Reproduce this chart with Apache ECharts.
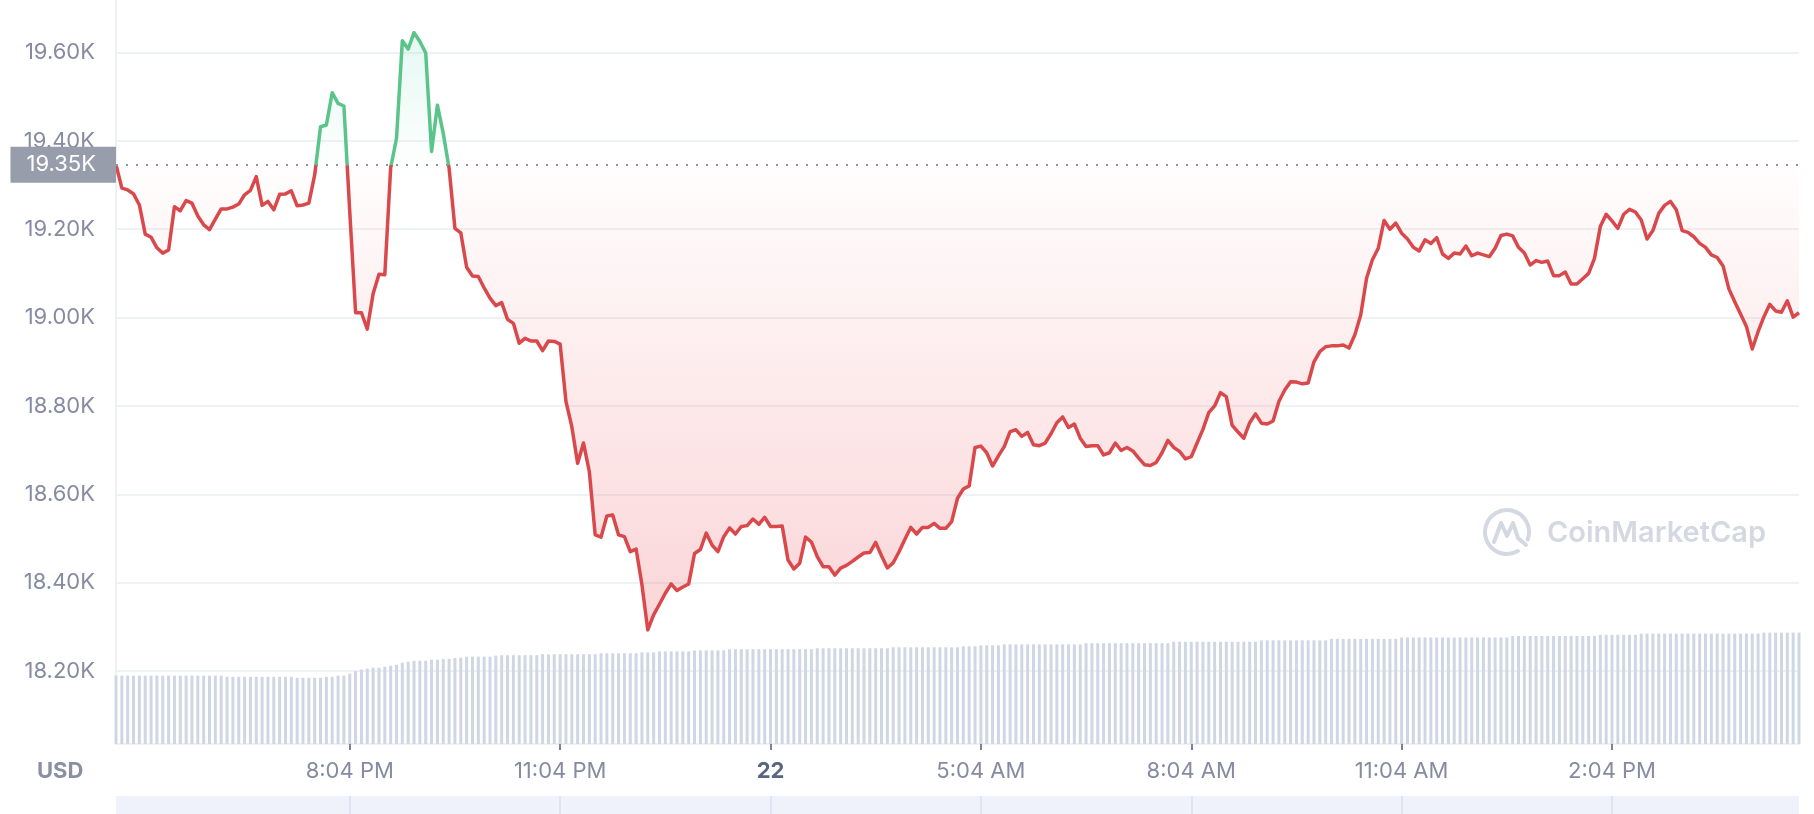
<!DOCTYPE html>
<html>
<head>
<meta charset="utf-8">
<script src="https://cdn.jsdelivr.net/npm/echarts@6/dist/echarts.min.js"></script>
<style>
  html, body { margin: 0; padding: 0; background: #fff; }
  #chart { width: 1814px; height: 814px; }
</style>
</head>
<body>
<div id="chart"></div>
<script>
// BTC / USD, last 24h in 5 minute steps (21st 16:44 -> 22nd 16:44)
const prices = [
  19346, 19293, 19289, 19280, 19255, 19189, 19182, 19158, 19146, 19153,
  19251, 19242, 19265, 19259, 19230, 19210, 19199, 19223, 19246, 19246,
  19250, 19257, 19278, 19288, 19319, 19254, 19263, 19244, 19279, 19280,
  19287, 19253, 19255, 19259, 19323, 19432, 19436, 19509, 19485, 19479,
  19240, 19011, 19011, 18974, 19054, 19098, 19097, 19339, 19406, 19627,
  19608, 19645, 19625, 19599, 19376, 19481, 19417, 19338, 19202, 19192,
  19114, 19094, 19093, 19067, 19044, 19027, 19034, 18996, 18987, 18942,
  18953, 18947, 18947, 18925, 18947, 18946, 18940, 18810, 18753, 18670,
  18716, 18651, 18508, 18503, 18551, 18553, 18508, 18504, 18470, 18476,
  18395, 18293, 18327, 18351, 18376, 18397, 18382, 18390, 18397, 18466,
  18475, 18512, 18485, 18470, 18504, 18524, 18510, 18527, 18529, 18544,
  18532, 18548, 18527, 18527, 18528, 18451, 18431, 18444, 18503, 18492,
  18459, 18436, 18436, 18417, 18433, 18439, 18448, 18458, 18467, 18468,
  18491, 18461, 18433, 18445, 18470, 18498, 18525, 18510, 18525, 18525,
  18534, 18523, 18523, 18538, 18591, 18612, 18619, 18706, 18709, 18694,
  18664, 18687, 18708, 18742, 18746, 18731, 18740, 18712, 18710, 18716,
  18737, 18762, 18775, 18751, 18759, 18727, 18708, 18710, 18710, 18689,
  18694, 18716, 18699, 18706, 18698, 18682, 18667, 18665, 18672, 18694,
  18722, 18706, 18697, 18680, 18685, 18716, 18747, 18785, 18800, 18830,
  18821, 18756, 18741, 18727, 18762, 18782, 18761, 18759, 18766, 18810,
  18836, 18855, 18854, 18850, 18852, 18900, 18923, 18934, 18936, 18936,
  18938, 18931, 18961, 19006, 19089, 19131, 19157, 19220, 19200, 19214,
  19191, 19178, 19159, 19151, 19176, 19168, 19181, 19144, 19134, 19146,
  19144, 19162, 19140, 19146, 19142, 19138, 19157, 19186, 19189, 19185,
  19159, 19146, 19119, 19129, 19125, 19128, 19095, 19095, 19103, 19076,
  19076, 19088, 19100, 19134, 19206, 19234, 19219, 19202, 19234, 19245,
  19239, 19221, 19178, 19197, 19236, 19254, 19263, 19244, 19197, 19193,
  19183, 19168, 19159, 19142, 19136, 19117, 19065, 19036, 19008, 18980,
  18929, 18968, 19002, 19030, 19015, 19012, 19038, 19001, 19011
];

// 24h volume, billions USD
const volumes = [
  28.5, 28.5, 28.5, 28.5, 28.5, 28.5, 28.5, 28.5, 28.5, 28.5,
  28.5, 28.5, 28.5, 28.5, 28.5, 28.5, 28.5, 28.5, 28.5, 28.0,
  28.0, 28.0, 28.0, 28.0, 28.0, 28.0, 28.0, 28.0, 28.0, 28.0,
  28.0, 27.6, 27.6, 27.6, 27.6, 27.6, 28.0, 28.0, 28.5, 28.5,
  29.3, 30.4, 31.0, 31.4, 31.8, 31.8, 32.2, 32.6, 33.0, 33.9,
  34.3, 34.7, 34.7, 34.7, 35.1, 35.1, 35.4, 35.5, 35.8, 36.0,
  36.4, 36.4, 36.4, 36.4, 36.4, 36.8, 37.0, 37.0, 37.0, 37.0,
  37.0, 37.0, 37.0, 37.4, 37.4, 37.4, 37.4, 37.4, 37.4, 37.4,
  37.4, 37.4, 37.4, 37.8, 37.8, 37.8, 37.8, 37.8, 37.8, 37.8,
  38.2, 38.2, 38.2, 38.6, 38.6, 38.6, 38.6, 38.6, 38.6, 39.0,
  39.0, 39.0, 39.0, 39.0, 39.0, 39.5, 39.5, 39.5, 39.5, 39.5,
  39.5, 39.5, 39.5, 39.5, 39.5, 39.5, 39.5, 39.5, 39.5, 39.5,
  39.9, 39.9, 39.9, 39.9, 39.9, 39.9, 39.9, 39.9, 39.9, 39.9,
  39.9, 39.9, 39.9, 40.3, 40.3, 40.3, 40.3, 40.3, 40.3, 40.3,
  40.3, 40.3, 40.3, 40.3, 40.3, 40.7, 40.7, 40.7, 41.1, 41.1,
  41.1, 41.1, 41.5, 41.5, 41.5, 41.5, 41.5, 41.5, 41.5, 41.5,
  41.5, 41.5, 41.5, 41.5, 41.5, 41.5, 42.0, 42.0, 42.0, 42.0,
  42.0, 42.0, 42.0, 42.0, 42.0, 42.0, 42.0, 42.0, 42.0, 42.0,
  42.0, 42.6, 42.6, 42.6, 42.6, 42.6, 42.6, 42.6, 42.6, 42.6,
  42.6, 42.6, 42.6, 42.6, 42.6, 42.6, 43.2, 43.2, 43.2, 43.2,
  43.2, 43.2, 43.2, 43.2, 43.2, 43.2, 43.2, 43.2, 43.8, 43.8,
  43.8, 43.8, 43.8, 43.8, 43.8, 43.8, 43.8, 43.8, 43.8, 43.8,
  44.4, 44.4, 44.4, 44.4, 44.4, 44.4, 44.4, 44.4, 44.4, 44.4,
  44.4, 44.4, 44.4, 44.4, 44.4, 44.4, 44.4, 44.4, 44.4, 45.0,
  45.0, 45.0, 45.0, 45.0, 45.0, 45.0, 45.0, 45.0, 45.0, 45.0,
  45.0, 45.0, 45.0, 45.0, 45.5, 45.5, 45.5, 45.5, 45.5, 45.5,
  45.5, 46.0, 46.0, 46.0, 46.0, 46.0, 46.0, 46.0, 46.0, 46.0,
  46.0, 46.0, 46.0, 46.0, 46.0, 46.0, 46.0, 46.0, 46.0, 46.0,
  46.0, 46.0, 46.4, 46.4, 46.4, 46.4, 46.4, 46.4, 46.4
];

const tickTimes = ['21 20:04', '21 23:04', '22 02:04', '22 05:04', '22 08:04', '22 11:04', '22 14:04'];
const tickLabels = ['8:04 PM', '11:04 PM', '22', '5:04 AM', '8:04 AM', '11:04 AM', '2:04 PM'];

// category names "DD HH:MM"
const startMinute = 16 * 60 + 44;
const times = [];
for (let i = 0; i < prices.length; i++) {
  const t = startMinute + i * 5;
  const m = t % 1440;
  times.push((21 + Math.floor(t / 1440)) + ' ' +
    String(Math.floor(m / 60)).padStart(2, '0') + ':' + String(m % 60).padStart(2, '0'));
}

const openPrice = prices[0];
const RED = '#d9484b';
const GREEN = '#5ac48a';
const FONT = 'Inter';
const isTick = (idx, val) => tickTimes.indexOf(val) >= 0;

const myChart = echarts.init(document.getElementById('chart'));

let option = {
  backgroundColor: '#fff',
  animation: false,
  textStyle: { fontFamily: FONT },
  grid: [
    { left: 116, right: 15, top: 0, bottom: 54.7 },        // price
    { left: 116, right: 15, top: 0, bottom: 70 },          // volume
    { left: 116, right: 15, top: 796, height: 18, show: true, backgroundColor: '#eff2fb', borderWidth: 0 }
  ],
  xAxis: [
    { type: 'category', gridIndex: 0, data: times, boundaryGap: false, show: false },
    {
      type: 'category', gridIndex: 1, data: times, boundaryGap: false,
      axisLine: { lineStyle: { color: '#eef1f6', width: 2 } },
      axisTick: { interval: isTick, length: 6, lineStyle: { color: '#7d8294', width: 2 } },
      axisLabel: {
        interval: isTick,
        margin: 16,
        fontSize: 22,
        color: '#858ca2',
        fontFamily: FONT,
        formatter: function (v) {
          const k = tickTimes.indexOf(v);
          if (k < 0) return '';
          return tickLabels[k].indexOf(' ') < 0 ? '{b|' + tickLabels[k] + '}' : tickLabels[k];
        },
        rich: { b: { fontSize: 22, fontWeight: 'bold', color: '#58667e', fontFamily: FONT } }
      }
    },
    {
      type: 'category', gridIndex: 2, data: times, boundaryGap: false,
      axisLine: { show: false }, axisTick: { show: false }, axisLabel: { show: false },
      splitLine: { show: true, interval: isTick, lineStyle: { color: '#dfe4f2', width: 2 } }
    }
  ],
  yAxis: [
    {
      // ticks counted from min (a multiple of 200); the top edge is not a tick
      type: 'value', gridIndex: 0, min: 18000, max: 19719, interval: 200,
      axisLine: { show: false }, axisTick: { show: false },
      axisLabel: {
        margin: 21, fontSize: 22, color: '#858ca2', fontFamily: FONT,
        showMinLabel: false, showMaxLabel: false,
        formatter: v => (v / 1000).toFixed(2) + 'K'
      },
      splitLine: { lineStyle: { color: '#eff2f5', width: 2 }, showMinLine: false, showMaxLine: false }
    },
    {
      type: 'value', gridIndex: 1, min: 0, max: 310,
      axisLine: { show: true, lineStyle: { color: '#eef1f6', width: 2 } },
      axisTick: { show: false }, axisLabel: { show: false }, splitLine: { show: false }
    },
    { type: 'value', gridIndex: 2, show: false, splitLine: { show: false } }
  ],
  visualMap: {
    show: false,
    type: 'piecewise',
    seriesIndex: 0,
    dimension: 1,
    pieces: [
      { gte: 10000, lt: openPrice, color: RED },
      { gte: openPrice, lte: 30000, color: GREEN }
    ]
  },
  graphic: [
    {
      type: 'text', left: 37, top: 760, silent: true,
      style: { text: 'USD', font: 'bold 22px Inter', fill: '#8a90a2' }
    },
    {
      type: 'group', silent: true,
      children: [
        {
          type: 'arc',
          shape: { cx: 1507, cy: 532, r: 22, startAngle: Math.PI / 3, endAngle: Math.PI * 2 + 0.35, clockwise: true },
          style: { stroke: '#d3d8e2', lineWidth: 4, fill: null, lineCap: 'round' }
        },
        {
          type: 'polyline',
          shape: { points: [[1494, 542], [1501, 523], [1507, 536], [1513, 523], [1518, 538], [1526, 545]] },
          style: { stroke: '#d3d8e2', lineWidth: 4, fill: null, lineJoin: 'round', lineCap: 'round' }
        },
        {
          type: 'text',
          style: { x: 1547, y: 533, text: 'CoinMarketCap', font: '600 29px Inter', fill: '#d3d8e2', verticalAlign: 'middle' }
        }
      ]
    }
  ],
  series: [
    {
      id: 'price',
      name: 'Price',
      type: 'line',
      xAxisIndex: 0,
      yAxisIndex: 0,
      data: prices,
      symbol: 'none',
      z: 3,
      lineStyle: { width: 3.5, join: 'round' },
      areaStyle: { origin: openPrice, color: 'rgba(0,0,0,0)' },
      markLine: {
        silent: true,
        symbol: 'none',
        lineStyle: { color: '#8f94a3', type: [2, 8], width: 2 },
        label: {
          position: 'start',
          distance: 0,
          formatter: p => (p.value / 1000).toFixed(2) + 'K',
          color: '#fff',
          fontSize: 22,
          fontFamily: FONT,
          lineHeight: 26,
          backgroundColor: '#979dab',
          padding: [5, 20, 5, 16]
        },
        data: [{ yAxis: openPrice }]
      }
    },
    {
      name: 'Volume',
      type: 'bar',
      xAxisIndex: 1,
      yAxisIndex: 1,
      data: volumes,
      barWidth: 3,
      z: 1,
      itemStyle: { color: '#cfd6e4' }
    }
  ]
};

myChart.setOption(option);

// area gradient split at the opening price line
const topY = myChart.convertToPixel({ yAxisIndex: 0 }, Math.max.apply(null, prices));
const baseY = myChart.convertToPixel({ yAxisIndex: 0 }, openPrice);
const lowY = myChart.convertToPixel({ yAxisIndex: 0 }, Math.min.apply(null, prices));
const f = (baseY - topY) / (lowY - topY);
myChart.setOption({
  series: [{
    id: 'price',
    areaStyle: {
      origin: openPrice,
      color: new echarts.graphic.LinearGradient(0, topY, 0, lowY, [
        { offset: 0, color: 'rgba(22,199,132,0.16)' },
        { offset: f, color: 'rgba(22,199,132,0.01)' },
        { offset: f, color: 'rgba(234,57,67,0.01)' },
        { offset: 1, color: 'rgba(234,57,67,0.30)' }
      ], true)
    }
  }]
});
</script>
</body>
</html>
